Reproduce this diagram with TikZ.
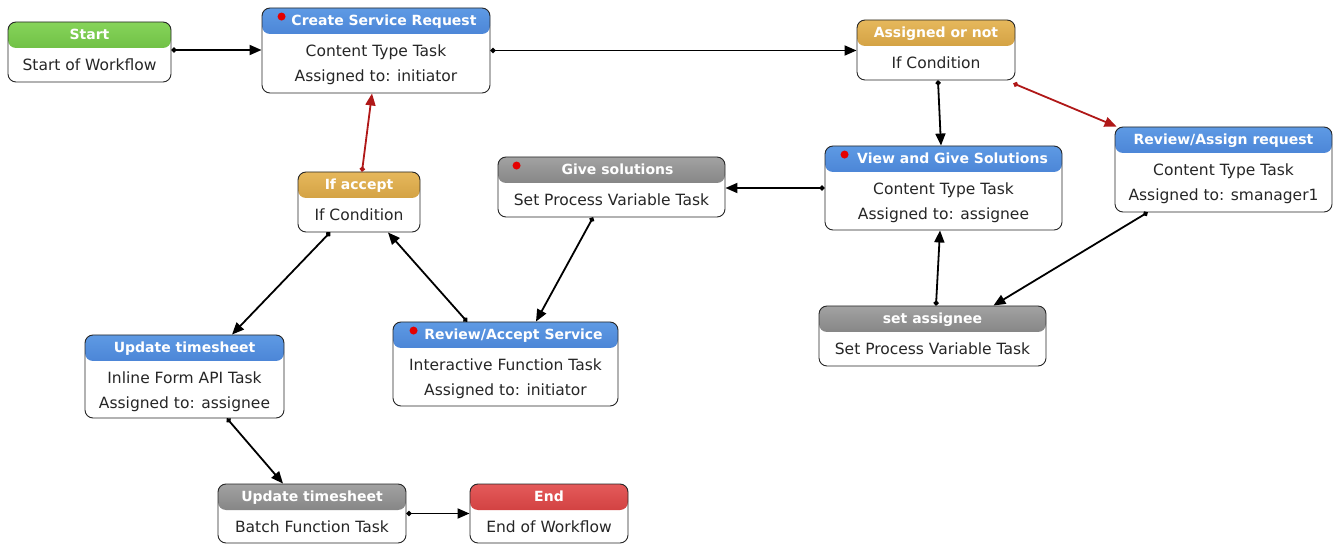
\documentclass[tikz,border=0pt]{standalone}
\usepackage{fontspec}
\setmainfont{DejaVu Sans}
\usetikzlibrary{arrows.meta,calc}
\definecolor{bluetop}{HTML}{5E9AE4}
\definecolor{bluebot}{HTML}{2459BA}
\definecolor{greentop}{HTML}{86D45A}
\definecolor{greenbot}{HTML}{55A82C}
\definecolor{goldtop}{HTML}{E6B85C}
\definecolor{goldbot}{HTML}{BC8626}
\definecolor{graytop}{HTML}{A2A2A2}
\definecolor{graybot}{HTML}{626262}
\definecolor{redtop}{HTML}{E45A5A}
\definecolor{redbot}{HTML}{BC2424}
\definecolor{bodytext}{HTML}{262626}
\definecolor{redline}{HTML}{B01818}
\tikzset{
  wfbox/.style={draw=black!85, line width=0.9pt, rounded corners=8pt, fill=white, inner sep=0pt},
  hdr/.style 2 args={path picture={\shade[top color=#1,bottom color=#2]
      (path picture bounding box.north west) rectangle ([yshift=-26pt]path picture bounding box.north east);}},
  htext/.style={text=white, font=\bfseries\fontsize{14}{16}\selectfont, inner sep=0pt, text height=10.5pt, text depth=3pt},
  btext/.style={text=bodytext, font=\fontsize{15.5}{18}\selectfont, inner sep=0pt, text height=11pt, text depth=3.5pt},
  conn/.style={line width=1.8pt, draw=black, {Circle[length=5pt]}-{Triangle[length=12pt,width=10pt]}},
  redconn/.style={conn, draw=redline, fill=redline},
  rdot/.style={fill=red!90!black}
}
\begin{document}
\begin{tikzpicture}[x=1pt,y=-1pt]
\useasboundingbox (0,0) rectangle (1342,545);
% boxes
\node[wfbox, minimum width=163pt, minimum height=60pt, hdr={greentop}{greenbot}] (start) at (89.5,52) {};
\node[wfbox, minimum width=228pt, minimum height=85pt, hdr={bluetop}{bluebot}] (create) at (376,50.5) {};
\node[wfbox, minimum width=158pt, minimum height=60pt, hdr={goldtop}{goldbot}] (assigned) at (936,50) {};
\node[wfbox, minimum width=217pt, minimum height=85pt, hdr={bluetop}{bluebot}] (revassign) at (1223.5,169.5) {};
\node[wfbox, minimum width=237pt, minimum height=84pt, hdr={bluetop}{bluebot}] (view) at (943.5,188) {};
\node[wfbox, minimum width=227pt, minimum height=60pt, hdr={graytop}{graybot}] (give) at (611.5,187) {};
\node[wfbox, minimum width=122pt, minimum height=60pt, hdr={goldtop}{goldbot}] (ifaccept) at (359,202) {};
\node[wfbox, minimum width=199pt, minimum height=83pt, hdr={bluetop}{bluebot}] (updone) at (184.5,376.5) {};
\node[wfbox, minimum width=225pt, minimum height=84pt, hdr={bluetop}{bluebot}] (revacc) at (505.5,364) {};
\node[wfbox, minimum width=227pt, minimum height=60pt, hdr={graytop}{graybot}] (setass) at (932.5,336) {};
\node[wfbox, minimum width=188pt, minimum height=59pt, hdr={graytop}{graybot}] (updtwo) at (312,513.5) {};
\node[wfbox, minimum width=158pt, minimum height=59pt, hdr={redtop}{redbot}] (end) at (549,513.5) {};
% header texts
\node[htext] (start-h) at ([yshift=-14pt]start.north) {Start};
\node[htext] (create-h) at ([yshift=-14pt,xshift=8pt]create.north) {Create Service Request};
\node[htext] (assigned-h) at ([yshift=-14pt]assigned.north) {Assigned or not};
\node[htext] (revassign-h) at ([yshift=-14pt]revassign.north) {Review/Assign request};
\node[htext] (view-h) at ([yshift=-14pt,xshift=9pt]view.north) {View and Give Solutions};
\node[htext] (give-h) at ([yshift=-14pt,xshift=6pt]give.north) {Give solutions};
\node[htext] (ifaccept-h) at ([yshift=-14pt]ifaccept.north) {If accept};
\node[htext] (updone-h) at ([yshift=-14pt]updone.north) {Update timesheet};
\node[htext] (revacc-h) at ([yshift=-14pt,xshift=8pt]revacc.north) {Review/Accept Service};
\node[htext] (setass-h) at ([yshift=-14pt]setass.north) {set assignee};
\node[htext] (updtwo-h) at ([yshift=-14pt]updtwo.north) {Update timesheet};
\node[htext] (end-h) at ([yshift=-14pt]end.north) {End};
% body texts
\node[btext] (start-a) at ([yshift=-45.5pt]start.north) {Start of Workflow};
\node[btext] (create-a) at ([yshift=-45.5pt]create.north) {Content Type Task};
\node[btext] (create-b) at ([yshift=-70.5pt]create.north) {Assigned to: initiator};
\node[btext] (assigned-a) at ([yshift=-45.5pt]assigned.north) {If Condition};
\node[btext] (revassign-a) at ([yshift=-45.5pt]revassign.north) {Content Type Task};
\node[btext] (revassign-b) at ([yshift=-70.5pt]revassign.north) {Assigned to: smanager1};
\node[btext] (view-a) at ([yshift=-45.5pt]view.north) {Content Type Task};
\node[btext] (view-b) at ([yshift=-70.5pt]view.north) {Assigned to: assignee};
\node[btext] (give-a) at ([yshift=-45.5pt]give.north) {Set Process Variable Task};
\node[btext] (ifaccept-a) at ([yshift=-45.5pt]ifaccept.north) {If Condition};
\node[btext] (updone-a) at ([yshift=-45.5pt]updone.north) {Inline Form API Task};
\node[btext] (updone-b) at ([yshift=-70.5pt]updone.north) {Assigned to: assignee};
\node[btext] (revacc-a) at ([yshift=-45.5pt]revacc.north) {Interactive Function Task};
\node[btext] (revacc-b) at ([yshift=-70.5pt]revacc.north) {Assigned to: initiator};
\node[btext] (setass-a) at ([yshift=-45.5pt]setass.north) {Set Process Variable Task};
\node[btext] (updtwo-a) at ([yshift=-45.5pt]updtwo.north) {Batch Function Task};
\node[btext] (end-a) at ([yshift=-45.5pt]end.north) {End of Workflow};
% red dots
\fill[rdot] ($(create.north west)+(20,9)$) circle (4pt);
\fill[rdot] ($(give.north west)+(19,9)$) circle (4pt);
\fill[rdot] ($(view.north west)+(20,9)$) circle (4pt);
\fill[rdot] ($(revacc.north west)+(21,9)$) circle (4pt);
% connectors
\draw[conn] ([yshift=2pt]start.east) -- ([yshift=2pt]start.east -| create.west);
\draw[conn] (create.east) -- (create.east -| assigned.west);
\draw[conn] ([xshift=2pt]assigned.south) -- ([xshift=-2.5pt]view.north);
\draw[redconn] ([xshift=-2pt,yshift=-3pt]assigned.south east) -- ([xshift=2pt]revassign.north west);
\draw[conn] ([xshift=33pt]revassign.south west) -- ([xshift=-53pt]setass.north east);
\draw[conn] ([xshift=3.5pt]setass.north) -- ([xshift=-3.5pt]view.south);
\draw[conn] (view.west) -- (view.west -| give.east);
\draw[conn] ([xshift=-18.5pt]give.south) -- ([xshift=30.5pt]revacc.north);
\draw[conn] ([xshift=-38.5pt]revacc.north) -- ([xshift=29pt]ifaccept.south);
\draw[conn] ([xshift=-29pt]ifaccept.south) -- ([xshift=47.5pt]updone.north);
\draw[redconn] ([xshift=3pt]ifaccept.north) -- ([xshift=-4pt]create.south);
\draw[conn] ([xshift=42.5pt]updone.south) -- ([xshift=-29pt]updtwo.north);
\draw[conn] (updtwo.east) -- (updtwo.east -| end.west);
\end{tikzpicture}
\end{document}
